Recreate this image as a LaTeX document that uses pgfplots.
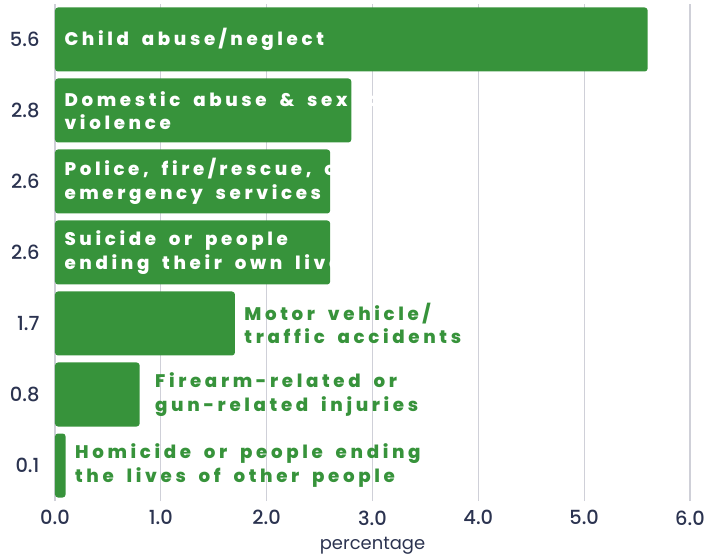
\documentclass[border=0pt]{standalone}
\usepackage{pgfplots}
\pgfplotsset{compat=1.18}
\usepackage{fontspec}
\setmainfont{Poppins}
\newfontfamily\barfont{Poppins ExtraBold}[LetterSpace=20, WordSpace=1.8]
\newfontfamily\tickfont{Poppins Medium}
\definecolor{bargreen}{RGB}{55,147,59}
\definecolor{ticknavy}{RGB}{43,51,80}
\definecolor{gridgray}{RGB}{207,208,216}
\begin{document}
\begin{tikzpicture}
\useasboundingbox (-55bp,-58bp) rectangle (653bp,501bp);
\begin{axis}[
  scale only axis,
  width=635bp, height=497bp,
  xmin=0, xmax=6,
  ymin=-0.5, ymax=6.5,
  xbar, bar width=64bp,
  bar shift=0pt,
  axis line style={draw=none},
  major tick length=0pt,
  xmajorgrids, grid style={gridgray, line width=1.2bp},
  xtick={0,1,2,3,4,5,6},
  ytick={0,1,2,3,4,5,6},
  yticklabels={0.1,0.8,1.7,2.6,2.6,2.8,5.6},
  /pgf/number format/assume math mode=true,
  xticklabel style={/pgf/number format/.cd, fixed, fixed zerofill, precision=1},
  ticklabel style={font=\tickfont\fontsize{19.5}{22}\selectfont, text=ticknavy},
  xlabel={percentage},
  xlabel style={font=\fontsize{18}{21}\selectfont, text=ticknavy, yshift=-5bp},
  xticklabel shift=6bp,
  yticklabel shift=12bp,
  clip=false,
]
\addplot[fill=bargreen, draw=none, rounded corners=3bp] coordinates {
  (0.1,0) (0.8,1) (1.7,2) (2.6,3) (2.6,4) (2.8,5) (5.6,6)
};
\tikzset{lbl/.style={anchor=west, align=left, font=\barfont\fontsize{18.3}{23.5}\selectfont}}
\node[lbl, text=white, xshift=6bp] at (axis cs:0,6) {Child abuse/neglect};
\node[lbl, text=white, xshift=6bp] at (axis cs:0,5) {Domestic abuse \& sexual\\violence};
\node[lbl, text=white, xshift=6bp] at (axis cs:0,4) {Police, fire/rescue, or\\emergency services};
\node[lbl, text=white, xshift=6bp] at (axis cs:0,3) {Suicide or people\\ending their own lives};
\node[lbl, text=bargreen, xshift=6bp] at (axis cs:1.7,2) {Motor vehicle/\\traffic accidents};
\node[lbl, text=bargreen, xshift=12bp] at (axis cs:0.8,1) {Firearm-related or\\gun-related injuries};
\node[lbl, text=bargreen, xshift=6bp] at (axis cs:0.1,0) {Homicide or people ending\\the lives of other people};
\end{axis}
\end{tikzpicture}
\end{document}
